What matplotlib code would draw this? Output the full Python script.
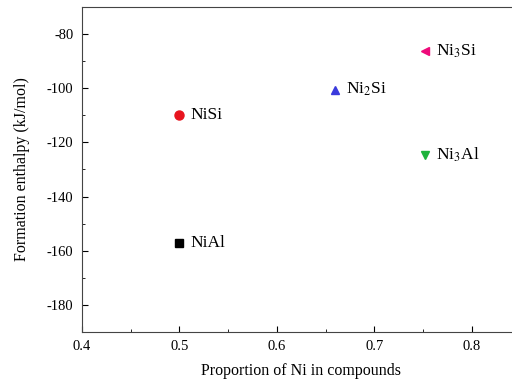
import matplotlib
matplotlib.use('Agg')
import matplotlib.pyplot as plt
from matplotlib.ticker import MultipleLocator

plt.rcParams['font.family'] = ['Liberation Serif', 'DejaVu Serif']
plt.rcParams['mathtext.fontset'] = 'stix'
plt.rcParams['axes.unicode_minus'] = False

# data
names = ['NiSi', 'Ni$_2$Si', 'Ni$_3$Si', 'Ni$_3$Al', 'NiAl']
ni_frac = [0.5, 0.66, 0.752, 0.752, 0.5]
enthalpy = [-110, -100.5, -86.3, -124.5, -157]
markers = ['o', '^', '<', 'v', 's']
colors = ['#e8141e', '#3a3adc', '#ee0a7a', '#1db33b', '#000000']
sizes = [6.5, 5.5, 5.5, 5.5, 6]

fig = plt.figure(figsize=(5.12, 3.83), dpi=100)
ax = fig.add_axes([0.160, 0.133, 0.857, 0.849])

for n, x, y, m, c, s in zip(names, ni_frac, enthalpy, markers, colors, sizes):
    ax.plot(x, y, marker=m, color=c, ms=s, ls='none')
    ax.text(x + 0.011, y, n, fontsize=12.5, va='center', ha='left')

ax.set_xlim(0.4, 0.85)
ax.set_ylim(-190, -70)
ax.xaxis.set_major_locator(MultipleLocator(0.1))
ax.xaxis.set_minor_locator(MultipleLocator(0.05))
ax.yaxis.set_major_locator(MultipleLocator(20))
ax.yaxis.set_minor_locator(MultipleLocator(10))
ax.tick_params(which='both', direction='in', top=False, right=False, labelsize=10.5)
ax.tick_params(which='major', length=4, pad=6)
ax.tick_params(which='minor', length=2)
ax.set_xticks([0.4, 0.5, 0.6, 0.7, 0.8])
ax.set_xticklabels(['0.4', '0.5', '0.6', '0.7', '0.8'])

for s in ax.spines.values():
    s.set_color('#444444')
ax.spines['right'].set_visible(False)

ax.set_xlabel('Proportion of Ni in compounds', fontsize=11.5, labelpad=7)
ax.set_ylabel('Formation enthalpy (kJ/mol)', fontsize=11.5, labelpad=12)

fig.savefig('out.png', dpi=100)
